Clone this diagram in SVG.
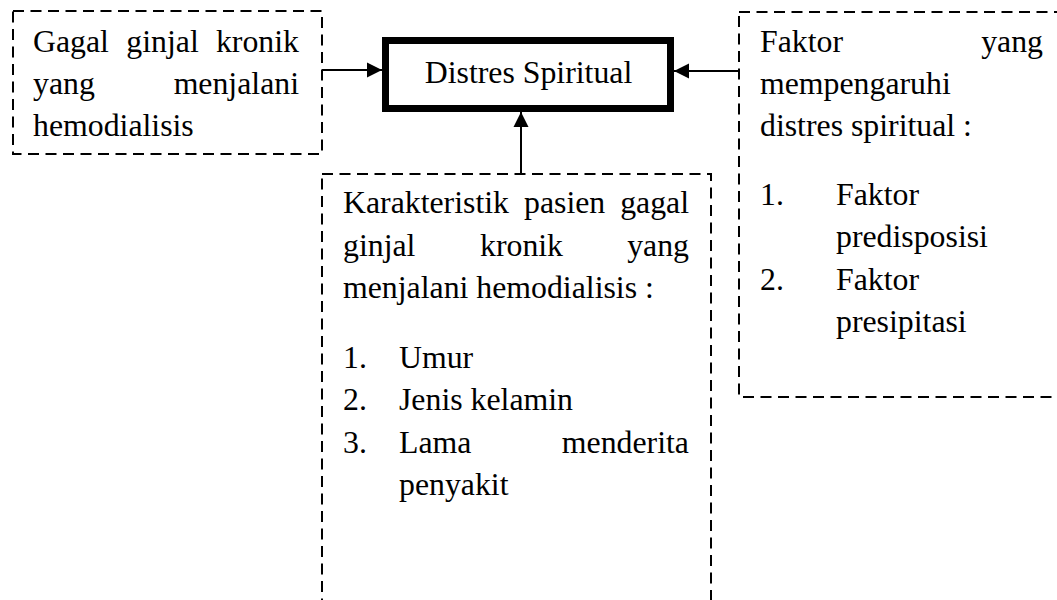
<svg xmlns="http://www.w3.org/2000/svg" width="1057" height="600" viewBox="0 0 1057 600">
<defs>
<style>
.dash{fill:none;stroke:#000;stroke-width:2;stroke-dasharray:11 6.5}
.main{fill:#fff;stroke:#000;stroke-width:7}
.conn{fill:none;stroke:#000;stroke-width:2}
.e{text-anchor:end}
.m{text-anchor:middle}
</style>
<marker id="ah" markerUnits="userSpaceOnUse" markerWidth="16" markerHeight="16" viewBox="0 0 16 16" refX="15" refY="8" orient="auto">
<path d="M0,0.5 L15,8 L0,15.5 Z" fill="#000"/>
</marker>
</defs>
<rect width="1057" height="600" fill="#fff"/>
<g font-family="'Liberation Serif', 'Times New Roman', Times, 'DejaVu Serif', serif" font-size="31.8" fill="#000">
<g id="node-gagal">
<rect class="dash" x="13" y="11" width="309" height="143"/>
<text x="33" y="51.5">Gagal</text>
<text x="126.3" y="51.5">ginjal</text>
<text class="e" x="299" y="51.5">kronik</text>
<text x="33" y="94">yang</text>
<text class="e" x="299" y="94">menjalani</text>
<text x="33" y="136">hemodialisis</text>
</g>
<g id="node-distres">
<rect class="main" x="385.5" y="40.5" width="285" height="68"/>
<text class="m" x="528.5" y="83">Distres Spiritual</text>
</g>
<g id="node-faktor">
<rect class="dash" x="739" y="12" width="340" height="385"/>
<text x="760" y="51.5">Faktor</text>
<text class="e" x="1043" y="51.5">yang</text>
<text x="760" y="94">mempengaruhi</text>
<text x="760" y="136">distres spiritual :</text>
<text x="760" y="205">1.</text>
<text x="836" y="205">Faktor</text>
<text x="836" y="247">predisposisi</text>
<text x="760" y="290">2.</text>
<text x="836" y="290">Faktor</text>
<text x="836" y="332">presipitasi</text>
</g>
<g id="node-karakteristik">
<rect class="dash" x="322" y="174" width="389" height="450"/>
<text x="343" y="213">Karakteristik</text>
<text x="524" y="213">pasien</text>
<text class="e" x="689" y="213">gagal</text>
<text x="343" y="256">ginjal</text>
<text x="480" y="256">kronik</text>
<text class="e" x="689" y="256">yang</text>
<text x="343" y="298">menjalani hemodialisis :</text>
<text x="343" y="368">1.</text>
<text x="399" y="368">Umur</text>
<text x="343" y="410">2.</text>
<text x="399" y="410">Jenis kelamin</text>
<text x="343" y="453">3.</text>
<text x="399" y="453">Lama</text>
<text class="e" x="689" y="453">menderita</text>
<text x="399" y="495">penyakit</text>
</g>
</g>
<g id="connectors">
<line class="conn" x1="322" y1="70" x2="382" y2="70" marker-end="url(#ah)"/>
<line class="conn" x1="739" y1="71" x2="674" y2="71" marker-end="url(#ah)"/>
<line class="conn" x1="521" y1="174" x2="521" y2="112" marker-end="url(#ah)"/>
</g>
</svg>
